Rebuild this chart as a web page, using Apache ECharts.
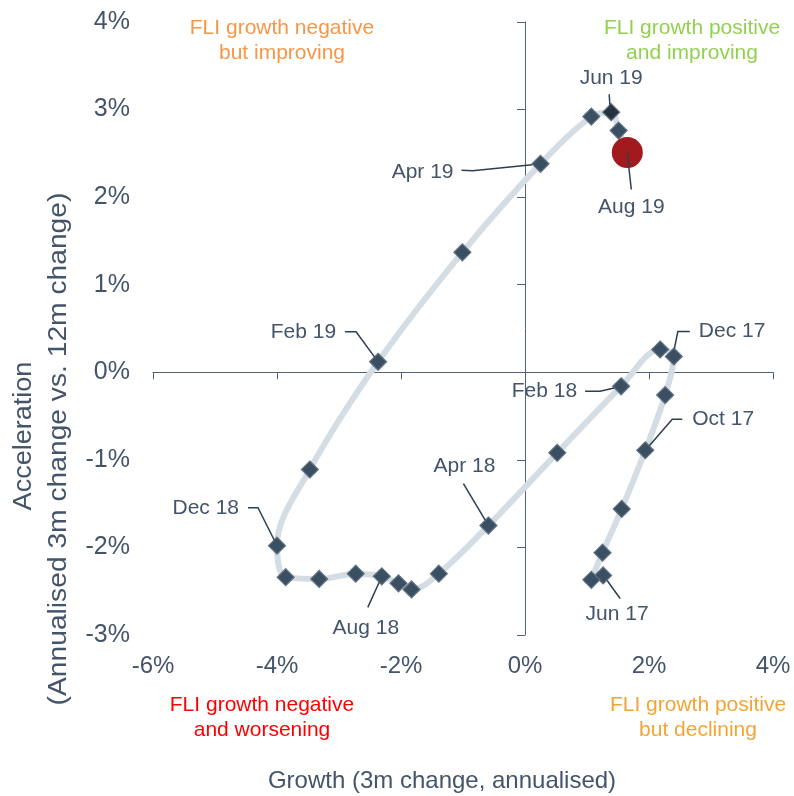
<!DOCTYPE html>
<html>
<head>
<meta charset="utf-8">
<title>FLI growth vs acceleration</title>
<script src="https://cdn.jsdelivr.net/npm/echarts@6/dist/echarts.min.js"></script>
<style>
  html, body { margin: 0; padding: 0; background: #ffffff; }
  #chart { width: 794px; height: 796px; }
</style>
</head>
<body>
<div id="chart"></div>
<script>
// Monthly path of the FLI: growth (x) against acceleration (y), both in %
const months = ['Jun 17', 'Jul 17', 'Aug 17', 'Sep 17', 'Oct 17', 'Nov 17', 'Dec 17',
  'Jan 18', 'Feb 18', 'Mar 18', 'Apr 18', 'May 18', 'Jun 18', 'Jul 18', 'Aug 18',
  'Sep 18', 'Oct 18', 'Nov 18', 'Dec 18', 'Jan 19', 'Feb 19', 'Mar 19', 'Apr 19',
  'May 19', 'Jun 19', 'Jul 19', 'Aug 19'];
const growth = [1.26, 1.07, 1.25, 1.56, 1.94, 2.26, 2.40, 2.18, 1.55, 0.52, -0.59,
  -1.39, -1.83, -2.04, -2.31, -2.73, -3.32, -3.86, -4.00, -3.47, -2.37, -1.01, 0.25,
  1.07, 1.39, 1.51, 1.65];
const acceleration = [-2.32, -2.37, -2.06, -1.56, -0.89, -0.26, 0.18, 0.26, -0.16,
  -0.92, -1.75, -2.30, -2.48, -2.41, -2.33, -2.30, -2.36, -2.34, -1.98, -1.11, 0.12,
  1.37, 2.38, 2.92, 2.97, 2.76, 2.51];
const labelledMonths = ['Jun 17', 'Oct 17', 'Dec 17', 'Feb 18', 'Apr 18', 'Aug 18',
  'Dec 18', 'Feb 19', 'Apr 19', 'Jun 19', 'Aug 19'];
const latestMonth = 'Aug 19';
const highlightMonth = 'Jun 19';

// Axis ranges and tick steps
const xRange = [-6, 4], xStep = 2;
const yRange = [-3, 4], yStep = 1;

// Callout placement, relative to each marker centre (pixels)
const calloutLayout = {
  'Jun 17': { text: [14, 39], align: 'center', path: [[17, 23], [4, 5]] },
  'Oct 17': { text: [47, -31], align: 'left', path: [[37, -31], [27, -31], [4, -4.5]] },
  'Dec 17': { text: [25, -25], align: 'left', path: [[16, -25], [4, -25], [0.6, -8]] },
  'Feb 18': { text: [-44, 5], align: 'right', path: [[-36, 5], [-21, 5], [-7, 1.6]] },
  'Apr 18': { text: [-24, -59], align: 'center', path: [[-25, -42], [-3.2, -5.3]] },
  'Aug 18': { text: [-16, 52], align: 'center', path: [[-14, 31], [-2.6, 5.9]] },
  'Dec 18': { text: [-38, -37], align: 'right', path: [[-29, -38], [-19, -38], [-2.8, -5.7]] },
  'Feb 19': { text: [-42, -30], align: 'right', path: [[-33, -30], [-22, -30], [-3.6, -4.9]] },
  'Apr 19': { text: [-87, 8], align: 'right', path: [[-79, 6.5], [-68, 7], [-8.3, 0.8]] },
  'Jun 19': { text: [0, -34], align: 'center', path: [[-2, -18], [-1, -3]] },
  'Aug 19': { text: [4, 55], align: 'center', path: [[4, 37], [2, 19], [0, 0]] }
};

const FONT = '"Liberation Sans", Arial, sans-serif';
const SLATE = '#44546A';

const points = months.map((m, i) => [growth[i], acceleration[i]]);
const latestIdx = months.indexOf(latestMonth);

const diamondData = months.map((m, i) => {
  if (i === latestIdx) return null;
  const item = { name: m, value: points[i] };
  if (m === highlightMonth) item.itemStyle = { color: '#26323F' };
  return item;
}).filter(Boolean);

const calloutData = labelledMonths.map(m => {
  const i = months.indexOf(m);
  return { name: m, value: [growth[i], acceleration[i]] };
});

const chart = echarts.init(document.getElementById('chart'), null, { renderer: 'canvas' });

const pct = v => v + '%';

chart.setOption({
  animation: false,
  backgroundColor: '#ffffff',
  grid: { left: 153, right: 21, top: 22, bottom: 161 },
  xAxis: [
    {
      type: 'value', min: xRange[0], max: xRange[1], interval: xStep,
      position: 'bottom',
      axisLine: { show: false, onZero: false },
      axisTick: { show: false },
      splitLine: { show: false },
      axisLabel: { formatter: pct, color: SLATE, fontSize: 24, fontFamily: FONT, margin: 19 }
    },
    {
      type: 'value', min: xRange[0], max: xRange[1], interval: xStep,
      position: 'bottom',
      axisLine: { show: true, onZero: true, onZeroAxisIndex: 0, lineStyle: { color: '#556475', width: 1 } },
      axisTick: { show: true, length: 7, lineStyle: { color: '#556475', width: 1 } },
      splitLine: { show: false },
      axisLabel: { show: false }
    }
  ],
  yAxis: [
    {
      type: 'value', min: yRange[0], max: yRange[1], interval: yStep,
      position: 'left',
      axisLine: { show: false, onZero: false },
      axisTick: { show: false },
      splitLine: { show: false },
      axisLabel: { formatter: pct, color: SLATE, fontSize: 25, fontFamily: FONT, margin: 23 }
    },
    {
      type: 'value', min: yRange[0], max: yRange[1], interval: yStep,
      position: 'left',
      axisLine: { show: true, onZero: true, onZeroAxisIndex: 0, lineStyle: { color: '#556475', width: 1 } },
      axisTick: { show: true, length: 8, lineStyle: { color: '#556475', width: 1 } },
      splitLine: { show: false },
      axisLabel: { show: false }
    }
  ],
  series: [
    {
      name: 'path',
      type: 'line',
      xAxisIndex: 0, yAxisIndex: 0,
      data: points,
      smooth: 0.35,
      showSymbol: false,
      lineStyle: { color: '#D5DDE4', width: 6 },
      z: 1,
      silent: true
    },
    {
      name: 'months',
      type: 'scatter',
      xAxisIndex: 0, yAxisIndex: 0,
      data: diamondData,
      symbol: 'diamond',
      symbolSize: 17,
      itemStyle: { color: '#3B4F62', borderColor: '#627384', borderWidth: 1.2, opacity: 1 },
      z: 3
    },
    {
      name: 'latest',
      type: 'scatter',
      xAxisIndex: 0, yAxisIndex: 0,
      data: [{ name: latestMonth, value: points[latestIdx] }],
      symbol: 'circle',
      symbolSize: 31,
      itemStyle: { color: '#A31A1E', opacity: 1 },
      z: 4
    },
    {
      name: 'callouts',
      type: 'custom',
      xAxisIndex: 0, yAxisIndex: 0,
      data: calloutData,
      z: 6,
      silent: true,
      renderItem: function (params, api) {
        const name = labelledMonths[params.dataIndex];
        const cfg = calloutLayout[name];
        const c = api.coord([api.value(0), api.value(1)]);
        const pts = cfg.path.map(p => [c[0] + p[0], c[1] + p[1]]);
        return {
          type: 'group',
          children: [
            {
              type: 'polyline',
              shape: { points: pts },
              style: { stroke: '#2E3E4E', lineWidth: 1.5, fill: null }
            },
            {
              type: 'text',
              x: c[0] + cfg.text[0],
              y: c[1] + cfg.text[1],
              style: {
                text: name,
                fill: SLATE,
                font: '21px ' + FONT,
                align: cfg.align,
                verticalAlign: 'middle'
              }
            }
          ]
        };
      }
    }
  ],
  graphic: [
    {
      type: 'text', x: 282, y: 41,
      style: { text: 'FLI growth negative\nbut improving', fill: '#F79646', font: '21px ' + FONT,
        align: 'center', verticalAlign: 'middle', lineHeight: 25 }
    },
    {
      type: 'text', x: 692, y: 41,
      style: { text: 'FLI growth positive\nand improving', fill: '#92D050', font: '21px ' + FONT,
        align: 'center', verticalAlign: 'middle', lineHeight: 25 }
    },
    {
      type: 'text', x: 262, y: 718,
      style: { text: 'FLI growth negative\nand worsening', fill: '#FF0000', font: '21px ' + FONT,
        align: 'center', verticalAlign: 'middle', lineHeight: 25 }
    },
    {
      type: 'text', x: 698, y: 718,
      style: { text: 'FLI growth positive\nbut declining', fill: '#F2A534', font: '21px ' + FONT,
        align: 'center', verticalAlign: 'middle', lineHeight: 25 }
    },
    {
      type: 'text', x: 442, y: 781,
      style: { text: 'Growth (3m change, annualised)', fill: SLATE, font: '24px ' + FONT,
        align: 'center', verticalAlign: 'middle' }
    },
    {
      type: 'text', x: 24, y: 436, rotation: Math.PI / 2, scaleX: 1.04,
      style: { text: 'Acceleration', fill: SLATE, font: '26px ' + FONT,
        align: 'center', verticalAlign: 'middle' }
    },
    {
      type: 'text', x: 59, y: 449, rotation: Math.PI / 2, scaleX: 1.085,
      style: { text: '(Annualised 3m change vs. 12m change)', fill: SLATE, font: '26px ' + FONT,
        align: 'center', verticalAlign: 'middle' }
    }
  ]
});
</script>
</body>
</html>
